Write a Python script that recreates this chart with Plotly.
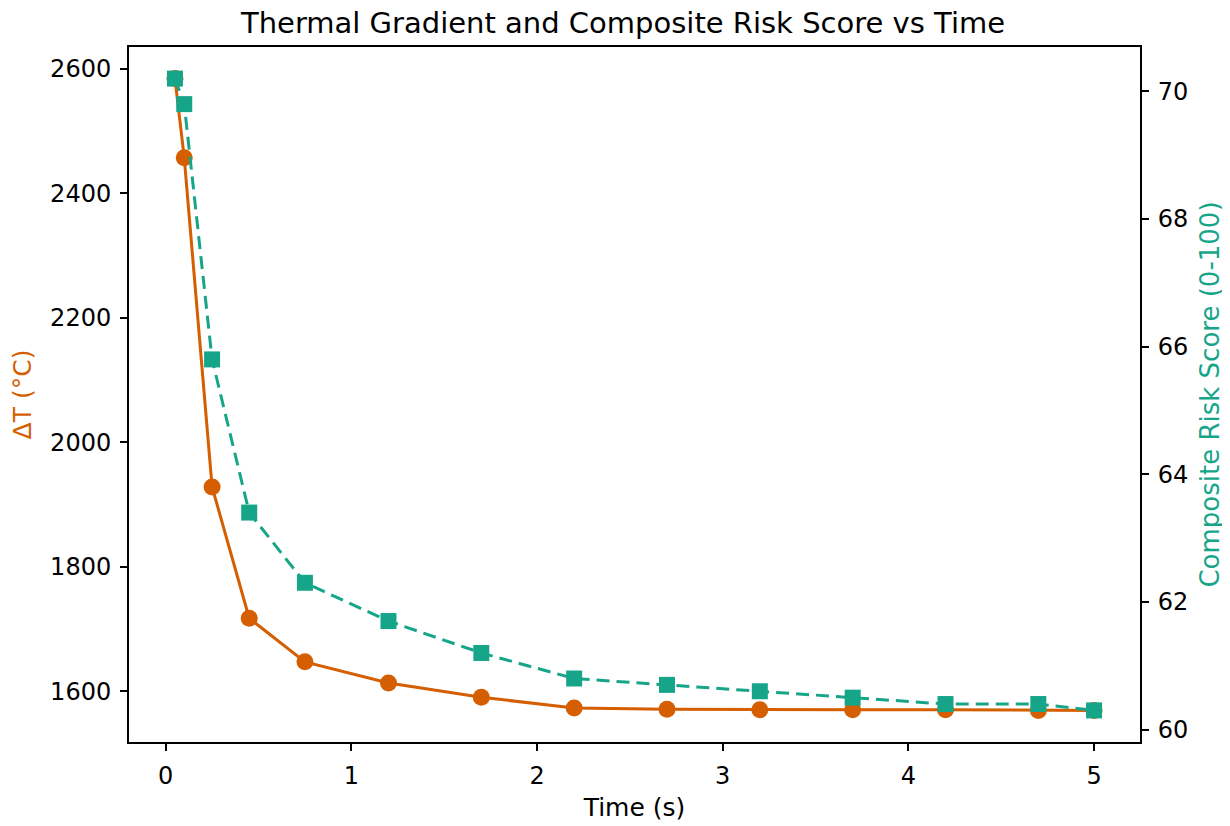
import plotly.graph_objects as go

time_s = [0.05, 0.1, 0.25, 0.45, 0.75, 1.2, 1.7, 2.2, 2.7, 3.2, 3.7, 4.2, 4.7, 5.0]
delta_t = [2584, 2457, 1928, 1717, 1647, 1613, 1590, 1573, 1571, 1570, 1570, 1570, 1569, 1569]
risk = [70.2, 69.8, 65.8, 63.4, 62.3, 61.7, 61.2, 60.8, 60.7, 60.6, 60.5, 60.4, 60.4, 60.3]

x_ticks = [0, 1, 2, 3, 4, 5]
y_ticks = [1600, 1800, 2000, 2200, 2400, 2600]
y2_ticks = [60, 62, 64, 66, 68, 70]

ORANGE = "#d55e00"
GREEN = "#17a589"
FONT = "DejaVu Sans"

fig = go.Figure()
fig.add_trace(go.Scatter(x=time_s, y=delta_t, mode="lines+markers", name="ΔT",
                         line=dict(color=ORANGE, width=3),
                         marker=dict(symbol="circle", size=17, color=ORANGE),
                         yaxis="y"))
fig.add_trace(go.Scatter(x=time_s, y=risk, mode="lines+markers", name="Risk",
                         line=dict(color=GREEN, width=3, dash="13px,7px"),
                         marker=dict(symbol="square", size=16, color=GREEN),
                         yaxis="y2"))

def rng(vals):
    lo, hi = min(vals), max(vals)
    m = (hi - lo) * 0.05
    return [lo - m, hi + m]

axis_common = dict(showgrid=False, zeroline=False, showline=True, linecolor="black",
                   linewidth=2, ticks="outside", ticklen=7, tickwidth=2,
                   tickcolor="black", ticklabelstandoff=4,
                   tickfont=dict(family=FONT, size=24, color="black"))

fig.update_layout(
    width=1230, height=826,
    margin=dict(l=121, r=98, t=39, b=92),
    plot_bgcolor="white", paper_bgcolor="white",
    showlegend=False,
    title=dict(text="Thermal Gradient and Composite Risk Score vs Time",
               x=0.5, xanchor="center", y=1 - 15 / 826, yref="container", yanchor="middle",
               font=dict(family=FONT, size=29, color="black")),
    xaxis=dict(range=rng(time_s), tickvals=x_ticks, mirror=True,
               title=dict(text="Time (s)", font=dict(family=FONT, size=25, color="black"), standoff=10),
               **axis_common),
    yaxis=dict(range=rng(delta_t), tickvals=y_ticks,
               title=dict(text="ΔT (°C)", font=dict(family=FONT, size=25, color=ORANGE), standoff=14),
               **axis_common),
    yaxis2=dict(range=rng(risk), tickvals=y2_ticks, overlaying="y", side="right",
                title=dict(text="Composite Risk Score (0-100)", font=dict(family=FONT, size=26, color=GREEN), standoff=13),
                **axis_common),
)

fig.write_html("out.html")
